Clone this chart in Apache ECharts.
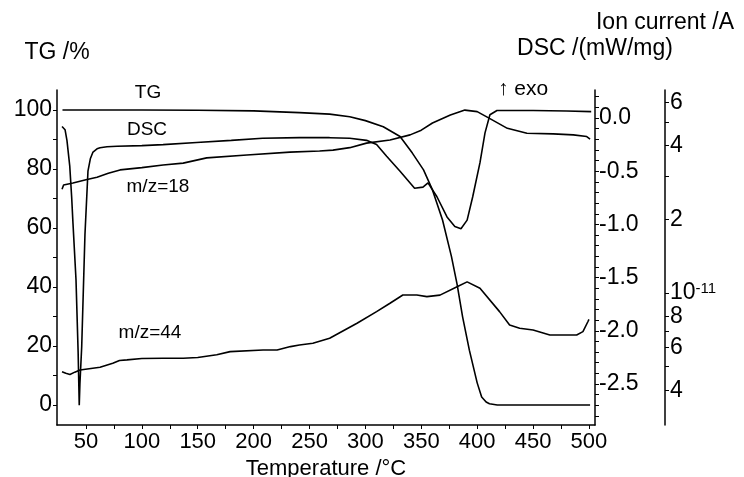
<!DOCTYPE html>
<html>
<head>
<meta charset="utf-8">
<script src="https://cdn.jsdelivr.net/npm/echarts@6.0.0/dist/echarts.min.js"></script>
<style>
  html, body { margin: 0; padding: 0; background: #fff; }
  #chart { width: 744px; height: 477px; }
</style>
</head>
<body>
<div id="chart"></div>
<script>
// TG curve: temperature (°C) / mass (%)
const tgTemp = [29, 60, 100, 150, 200, 241, 268, 286, 300, 316, 331, 342, 352, 360, 369, 377, 382, 387, 393, 400, 404, 408, 411, 418, 450, 501];
const tgMass = [100, 100, 100, 99.9, 99.7, 99.1, 98.6, 97.7, 96.4, 94.3, 91, 85.4, 79.7, 72.9, 62.7, 50.3, 41, 29.8, 18.6, 7.5, 2.7, 1.0, 0.4, 0, 0, 0];

// DSC curve: temperature (°C) / heat flow (mW/mg)
const dscTemp = [28.6, 31.3, 33, 35.5, 37.2, 38.4, 41.1, 43, 44, 44.6, 46.2, 49.1, 51.8, 54, 56.3, 59.9, 62.6, 68.8, 77.8, 100, 119, 149, 180, 208, 241, 268, 286, 301, 310, 319, 331, 344, 351.5, 356, 364, 373, 380, 385.5, 391, 396, 402.5, 407, 411.4, 417.7, 450, 480, 502];
const dscValue = [-0.08, -0.11, -0.21, -0.45, -0.74, -0.99, -1.52, -2.2, -2.70, -2.5, -2.15, -1.1, -0.5, -0.38, -0.32, -0.29, -0.28, -0.27, -0.265, -0.26, -0.25, -0.23, -0.21, -0.19, -0.185, -0.185, -0.19, -0.21, -0.25, -0.36, -0.50, -0.66, -0.65, -0.61, -0.74, -0.93, -1.02, -1.04, -0.96, -0.74, -0.42, -0.14, 0.03, 0.07, 0.07, 0.065, 0.06];

// ion currents, in units of 1e-11 A
const ms18Temp = [28.6, 30, 38.4, 50, 59.9, 70, 80.5, 100, 119, 137, 158, 194, 232.5, 259, 271, 286, 301, 322, 340, 350, 360, 376, 389, 400, 411, 427, 444.5, 468, 486, 498, 501];
const ms18Current = [2.65, 2.76, 2.81, 2.9, 2.97, 3.08, 3.18, 3.25, 3.33, 3.39, 3.56, 3.66, 3.76, 3.80, 3.83, 3.92, 4.09, 4.21, 4.42, 4.62, 4.94, 5.33, 5.58, 5.5, 5.16, 4.70, 4.49, 4.46, 4.42, 4.35, 4.25];

const ms44Temp = [28.6, 32, 35.7, 40, 44.7, 62.6, 74, 80, 86.7, 100, 119, 137, 150, 167, 179, 208.5, 221, 233, 241, 253, 268, 292.5, 310, 322, 333.5, 346, 355, 366.7, 382, 391, 402.5, 420, 429, 438, 450, 465, 489, 494.6, 499, 500];
const ms44Current = [0.477, 0.47, 0.465, 0.475, 0.485, 0.497, 0.516, 0.53, 0.533, 0.54, 0.541, 0.541, 0.545, 0.559, 0.576, 0.585, 0.585, 0.604, 0.613, 0.623, 0.653, 0.752, 0.839, 0.908, 0.981, 0.981, 0.966, 0.98, 1.06, 1.11, 1.045, 0.839, 0.74, 0.718, 0.706, 0.674, 0.674, 0.695, 0.763, 0.78];

// tick labels
const tempLabels = [50, 100, 150, 200, 250, 300, 350, 400, 450, 500];
const tempTicks = [50, 75, 100, 125, 150, 175, 200, 225, 250, 275, 300, 325, 350, 375, 400, 425, 450, 475, 500];
const tgLabels = [0, 20, 40, 60, 80, 100];
const tgTicks = [0, 10, 20, 30, 40, 50, 60, 70, 80, 90, 100];
const dscLabels = [-2.5, -2.0, -1.5, -1.0, -0.5, 0.0];
const dscTicks = [-2.8, -2.7, -2.6, -2.5, -2.4, -2.3, -2.2, -2.1, -2.0, -1.9, -1.8, -1.7, -1.6, -1.5, -1.4, -1.3, -1.2, -1.1, -1.0, -0.9, -0.8, -0.7, -0.6, -0.5, -0.4, -0.3, -0.2, -0.1, 0.0, 0.1, 0.2];
const ionLabels = [0.4, 0.6, 0.8, 1, 2, 4, 6];
const ionTicks = [0.4, 0.5, 0.6, 0.7, 0.8, 1, 2, 3, 4, 5, 6];

// curve labels (placed in TG axis coordinates)
const annoText = ['TG', 'DSC', 'm/z=18', 'm/z=44'];
const annoTemp = [105.5, 104.6, 114.4, 107.3];
const annoTG = [105.8, 93.2, 73.9, 24.4];

const zip = (xs, ys) => xs.map((x, i) => [x, ys[i]]);

const FONT = 'Liberation Sans, Arial, sans-serif';
const black = '#000';

const chart = echarts.init(document.getElementById('chart'));

const lineStyle = { color: black, width: 1.6 };

const option = {
  animation: false,
  backgroundColor: '#fff',
  textStyle: { fontFamily: FONT, color: black },
  grid: { left: 57, right: 149, top: 90, bottom: 52, outerBoundsMode: 'none', containLabel: false },
  graphic: [
    { type: 'text', left: 498, top: 79, style: { text: '\u2191 exo', fontSize: 21, fontFamily: FONT, fill: black } }
  ],
  xAxis: {
    type: 'value',
    min: 24.1,
    max: 505.4,
    name: 'Temperature /°C',
    nameLocation: 'middle',
    nameGap: 30,
    nameTextStyle: { fontSize: 22, color: black, fontFamily: FONT },
    splitLine: { show: false },
    axisLine: { onZero: false, lineStyle: { color: black, width: 1.5 } },
    axisTick: { customValues: tempTicks, length: 4, lineStyle: { color: black } },
    axisLabel: { customValues: tempLabels, fontSize: 22, color: black, fontFamily: FONT, margin: 6 }
  },
  yAxis: [
    {
      type: 'value',
      position: 'left',
      min: -6.78,
      max: 106.78,
      name: 'TG /%',
      nameLocation: 'end',
      nameGap: 26,
      nameTextStyle: { fontSize: 23, color: black, fontFamily: FONT },
      splitLine: { show: false },
      axisLine: { show: true, onZero: false, lineStyle: { color: black, width: 1.5 } },
      axisTick: { customValues: tgTicks, length: 4, lineStyle: { color: black } },
      axisLabel: { customValues: tgLabels, fontSize: 23, color: black, fontFamily: FONT, margin: 5 }
    },
    {
      type: 'value',
      position: 'right',
      min: -2.885,
      max: 0.263,
      name: 'DSC /(mW/mg)',
      nameLocation: 'end',
      nameGap: 30,
      nameTextStyle: { fontSize: 23, color: black, fontFamily: FONT },
      splitLine: { show: false },
      axisLine: { show: true, onZero: false, lineStyle: { color: black, width: 1.5 } },
      axisTick: { customValues: dscTicks, length: 4, lineStyle: { color: black } },
      axisLabel: {
        customValues: dscLabels, fontSize: 23, color: black, fontFamily: FONT, margin: 4,
        formatter: v => v.toFixed(1)
      }
    },
    {
      type: 'log',
      logBase: 10,
      position: 'right',
      offset: 70,
      min: 0.289,
      max: 6.74,
      name: 'Ion current /A',
      nameLocation: 'end',
      nameGap: 56,
      nameTextStyle: { fontSize: 23, color: black, fontFamily: FONT },
      splitLine: { show: false },
      axisLine: { show: true, onZero: false, lineStyle: { color: black, width: 1.5 } },
      axisTick: { customValues: ionTicks, length: 4, lineStyle: { color: black } },
      axisLabel: {
        customValues: ionLabels, fontSize: 23, color: black, fontFamily: FONT, margin: 5,
        formatter: v => {
          if (Math.abs(v - 1) < 1e-9) return '{b|10}{sup|-11}';
          if (v < 1) return String(Math.round(v * 10));
          return String(Math.round(v));
        },
        rich: {
          b: { fontSize: 23, fontFamily: FONT, color: black, lineHeight: 24 },
          sup: { fontSize: 15, fontFamily: FONT, color: black, verticalAlign: 'top', lineHeight: 15 }
        }
      }
    }
  ],
  series: [
    {
      name: 'TG',
      type: 'line',
      yAxisIndex: 0,
      showSymbol: false,
      lineStyle: lineStyle,
      data: zip(tgTemp, tgMass),
      markPoint: {
        symbol: 'circle',
        symbolSize: 1,
        itemStyle: { color: 'transparent' },
        label: { show: true, position: 'inside', fontSize: 19, color: black, fontFamily: FONT, formatter: p => p.name },
        data: annoText.map((t, i) => ({ name: t, coord: [annoTemp[i], annoTG[i]] }))
      }
    },
    {
      name: 'DSC',
      type: 'line',
      yAxisIndex: 1,
      showSymbol: false,
      lineStyle: lineStyle,
      data: zip(dscTemp, dscValue)
    },
    {
      name: 'm/z=18',
      type: 'line',
      yAxisIndex: 2,
      showSymbol: false,
      lineStyle: lineStyle,
      data: zip(ms18Temp, ms18Current)
    },
    {
      name: 'm/z=44',
      type: 'line',
      yAxisIndex: 2,
      showSymbol: false,
      lineStyle: lineStyle,
      data: zip(ms44Temp, ms44Current)
    }
  ]
};

chart.setOption(option);
</script>
</body>
</html>
